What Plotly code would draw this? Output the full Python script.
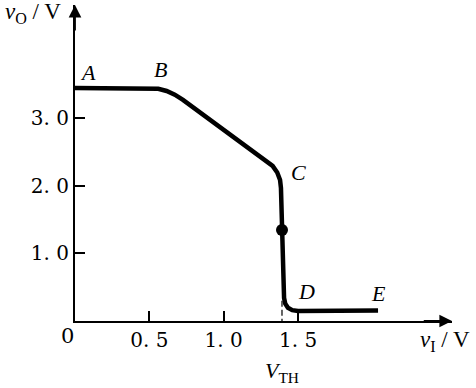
import plotly.graph_objects as go

# transfer characteristic
vi = [0.0, 0.504, 0.560, 0.616, 0.671, 0.726, 1.284, 1.329, 1.360, 1.379, 1.385, 1.392, 1.406, 1.414, 1.432, 1.461, 1.500, 2.038]
vo = [3.442, 3.442, 3.431, 3.398, 3.343, 3.266, 2.378, 2.291, 2.193, 2.084, 1.965, 1.344, 0.340, 0.257, 0.196, 0.160, 0.148, 0.155]

vth = 1.392
vth_vo = 1.344

xticks = [0.5, 1.0, 1.5]
xticktext = ["0. 5", "1. 0", "1. 5"]
yticks = [1.0, 2.0, 3.0]
yticktext = ["1. 0", "2. 0", "3. 0"]

point_labels = ["A", "B", "C", "D", "E"]
label_x = [0.09, 0.575, 1.50, 1.555, 2.04]
label_y = [3.67, 3.71, 2.19, 0.44, 0.40]

FONT = "Liberation Serif"
NUMFONT = "DejaVu Serif"
W, H = 476, 388
L, R, T, B = 75, 24, 5, 67
PX_X = 148.7
PX_Y = 67.7
xmax = (W - L - R) / PX_X
ymax = (H - T - B) / PX_Y


def px(xpix):
    return (xpix - L) / (W - L - R)


def py(ypix):
    return (H - B - ypix) / (H - T - B)


fig = go.Figure()

fig.add_trace(go.Scatter(x=[vth, vth], y=[0.3, -0.52], mode="lines",
                         line=dict(color="black", width=1.2, dash="6px,3px"),
                         cliponaxis=False, hoverinfo="skip"))
fig.add_trace(go.Scatter(x=vi, y=vo, mode="lines",
                         line=dict(color="black", width=4.5), hoverinfo="skip"))
fig.add_trace(go.Scatter(x=[vth], y=[vth_vo], mode="markers",
                         marker=dict(color="black", size=12), hoverinfo="skip"))

ann = []
# axis arrowheads
ann.append(dict(x=xmax, y=0, ax=xmax - 0.2, ay=0, xref="x", yref="y", axref="x", ayref="y",
                showarrow=True, arrowhead=2, arrowsize=1.4, arrowwidth=1.8, arrowcolor="black", text=""))
ann.append(dict(x=0, y=ymax, ax=0, ay=ymax - 0.4, xref="x", yref="y", axref="x", ayref="y",
                showarrow=True, arrowhead=2, arrowsize=1.4, arrowwidth=1.8, arrowcolor="black", text=""))
for t, x, y in zip(point_labels, label_x, label_y):
    ann.append(dict(x=x, y=y, xref="x", yref="y", text="<i>%s</i>" % t, showarrow=False,
                    font=dict(family=FONT, size=22, color="black")))
outside = [("<i>v</i><sub>O</sub> / V", 33, 13, FONT, 23), ("<i>v</i><sub>I</sub> / V", 445, 341, FONT, 23),
           ("<i>V</i><sub>TH</sub>", 282, 372, FONT, 22), ("0", 67, 336, NUMFONT, 21)]
for t, xp, yp, f, s in outside:
    ann.append(dict(x=px(xp), y=py(yp), xref="paper", yref="paper", text=t, showarrow=False,
                    xanchor="center", yanchor="middle",
                    font=dict(family=f, size=s, color="black")))
fig.update_layout(annotations=ann)

fig.update_layout(
    width=W, height=H, margin=dict(l=L, r=R, t=T, b=B),
    paper_bgcolor="white", plot_bgcolor="white", showlegend=False,
    xaxis=dict(range=[0, xmax], showgrid=False, zeroline=False, showline=True, automargin=False,
               linecolor="black", linewidth=2, ticks="inside", ticklen=10, tickwidth=1.5,
               tickcolor="black", tickvals=xticks, ticktext=xticktext,
               tickfont=dict(family=NUMFONT, size=20, color="black")),
    yaxis=dict(range=[0, ymax], showgrid=False, zeroline=False, showline=True, automargin=False,
               linecolor="black", linewidth=2, ticks="inside", ticklen=10, tickwidth=1.5,
               tickcolor="black", tickvals=yticks, ticktext=yticktext,
               tickfont=dict(family=NUMFONT, size=20, color="black")),
)

fig.write_html("out.html", config={"displayModeBar": False},
               post_script="document.body.style.margin='0px';document.body.style.padding='0px';")
